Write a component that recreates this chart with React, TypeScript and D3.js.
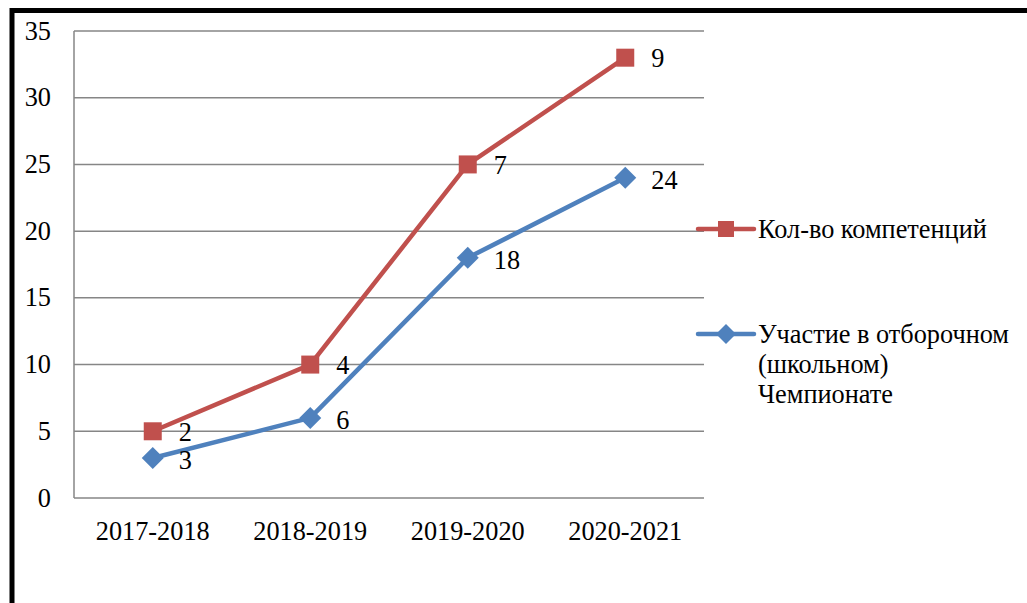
import React from "react";
import * as d3 from "d3";

const categories = ["2017-2018", "2018-2019", "2019-2020", "2020-2021"];
const redValues = [5, 10, 25, 33];
const redLabels = ["2", "4", "7", "9"];
const blueValues = [3, 6, 18, 24];
const blueLabels = ["3", "6", "18", "24"];
const yTicks = [0, 5, 10, 15, 20, 25, 30, 35];
const seriesNames = ["Кол-во компетенций", "Участие в отборочном", "(школьном)", "Чемпионате"];

const W = 1027;
const H = 603;
const RED = "#C0504D";
const BLUE = "#4F81BD";
const GRID = "#868686";
const FONT = '"Liberation Serif", "Times New Roman", Times, serif';

export default function App() {
  const x = d3.scaleBand<string>().domain(categories).range([74, 704]);
  const y = d3.scaleLinear().domain([0, 35]).range([498, 31]);
  const cx = (c: string) => (x(c) as number) + x.bandwidth() / 2;
  const line = d3
    .line<number>()
    .x((_, i) => cx(categories[i]))
    .y((d) => y(d));

  const fs = 26.3;

  const diamond = (px: number, py: number, r: number) =>
    `M${px},${py - r}L${px + r},${py}L${px},${py + r}L${px - r},${py}Z`;

  const ts = { fontFamily: FONT, fontSize: fs } as React.CSSProperties;

  return (
    <svg
      width={W}
      height={H}
      style={{ position: "absolute", left: 0, top: 0, background: "#fff", fontFamily: FONT }}
    >
      <rect x={12} y={10.5} width={W + 20} height={H + 20} fill="none" stroke="#000" strokeWidth={5} />
      {yTicks.map((t) => (
        <g key={t}>
          {t > 0 && <line x1={74} x2={704} y1={y(t)} y2={y(t)} stroke={GRID} strokeWidth={1.5} />}
          <text x={51} y={y(t)} textAnchor="end" dominantBaseline="central" style={ts}>
            {t}
          </text>
        </g>
      ))}
      <line x1={74} x2={74} y1={31} y2={498} stroke={GRID} strokeWidth={1.5} />
      <line x1={74} x2={704} y1={498} y2={498} stroke={GRID} strokeWidth={1.5} />
      {categories.map((c) => (
        <text key={c} x={cx(c)} y={531} textAnchor="middle" dominantBaseline="central" style={ts}>
          {c}
        </text>
      ))}
      <path d={line(redValues) || ""} fill="none" stroke={RED} strokeWidth={4.5} strokeLinejoin="round" />
      {redValues.map((v, i) => (
        <rect key={i} x={cx(categories[i]) - 9} y={y(v) - 9} width={18} height={18} fill={RED} />
      ))}
      <path d={line(blueValues) || ""} fill="none" stroke={BLUE} strokeWidth={4.5} strokeLinejoin="round" />
      {blueValues.map((v, i) => (
        <path key={i} d={diamond(cx(categories[i]), y(v), 11)} fill={BLUE} />
      ))}
      {redValues.map((v, i) => (
        <text key={i} x={cx(categories[i]) + 26} y={y(v) + 1} dominantBaseline="central" style={ts}>
          {redLabels[i]}
        </text>
      ))}
      {blueValues.map((v, i) => (
        <text key={i} x={cx(categories[i]) + 26} y={y(v) + 3} dominantBaseline="central" style={ts}>
          {blueLabels[i]}
        </text>
      ))}
      <line x1={698} x2={754} y1={229} y2={229} stroke={RED} strokeWidth={4.5} strokeLinecap="round" />
      <rect x={726 - 8} y={229 - 8} width={16} height={16} fill={RED} />
      <text x={758} y={229} dominantBaseline="central" style={ts}>
        {seriesNames[0]}
      </text>
      <line x1={698} x2={754} y1={334} y2={334} stroke={BLUE} strokeWidth={4.5} strokeLinecap="round" />
      <path d={diamond(726, 334, 10)} fill={BLUE} />
      {seriesNames.slice(1).map((s, i) => (
        <text key={s} x={758} y={334 + i * 30} dominantBaseline="central" style={ts}>
          {s}
        </text>
      ))}
    </svg>
  );
}
